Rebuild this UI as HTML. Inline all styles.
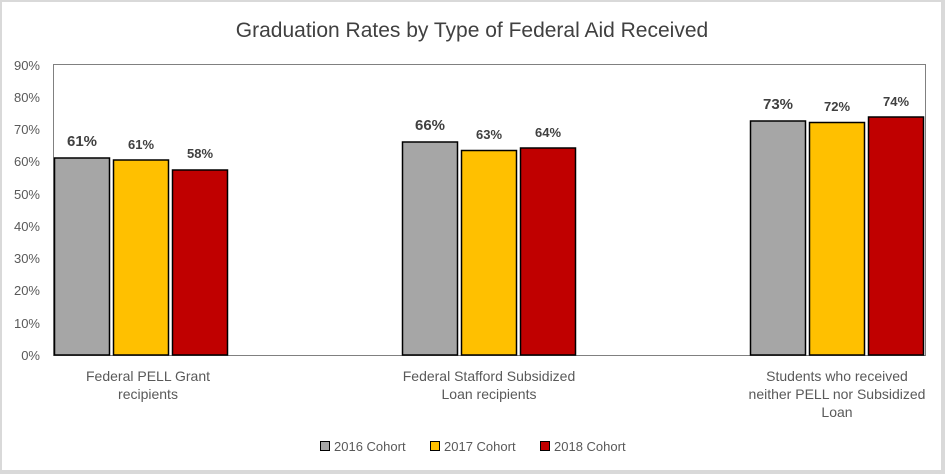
<!DOCTYPE html>
<html><head><style>
body{margin:0;background:#fff;}
svg{display:block;font-family:"Liberation Sans",sans-serif;}
</style></head><body>
<svg width="945" height="474" viewBox="0 0 945 474">
<rect x="0" y="0" width="945" height="474" fill="#d9d9d9"/>
<rect x="2" y="2" width="939" height="468" fill="#fff"/>
<text x="472" y="37" text-anchor="middle" font-size="21" fill="#404040">Graduation Rates by Type of Federal Aid Received</text>
<rect x="53.5" y="64.5" width="872" height="291" fill="none" stroke="#808080" stroke-width="1"/>
<g font-size="13" fill="#595959" text-anchor="end">
<text x="40" y="360">0%</text><text x="40" y="328">10%</text><text x="40" y="295">20%</text>
<text x="40" y="263">30%</text><text x="40" y="231">40%</text><text x="40" y="199">50%</text>
<text x="40" y="166">60%</text><text x="40" y="134">70%</text><text x="40" y="102">80%</text>
<text x="40" y="70">90%</text>
</g>
<g stroke="#000" stroke-width="1.5">
<rect x="54.5" y="158" width="55" height="197" fill="#a6a6a6"/>
<rect x="113.5" y="160" width="55" height="195" fill="#ffc000"/>
<rect x="172.5" y="170" width="55" height="185" fill="#c00000"/>
<rect x="402.5" y="142" width="55" height="213" fill="#a6a6a6"/>
<rect x="461.5" y="150.5" width="55" height="204.5" fill="#ffc000"/>
<rect x="520.5" y="148" width="55" height="207" fill="#c00000"/>
<rect x="750.5" y="121" width="55" height="234" fill="#a6a6a6"/>
<rect x="809.5" y="122.5" width="55" height="232.5" fill="#ffc000"/>
<rect x="868.5" y="117" width="55" height="238" fill="#c00000"/>
</g>
<g font-weight="bold" fill="#404040" text-anchor="middle">
<text x="82" y="146" font-size="15">61%</text>
<text x="141" y="149" font-size="13">61%</text>
<text x="200" y="158" font-size="13">58%</text>
<text x="430" y="130" font-size="15">66%</text>
<text x="489" y="139" font-size="13">63%</text>
<text x="548" y="137" font-size="13">64%</text>
<text x="778" y="109" font-size="15">73%</text>
<text x="837" y="111" font-size="13">72%</text>
<text x="896" y="106" font-size="13">74%</text>
</g>
<g font-size="14" fill="#595959" text-anchor="middle">
<text x="148" y="381">Federal PELL Grant</text><text x="148" y="399">recipients</text>
<text x="489" y="381">Federal Stafford Subsidized</text><text x="489" y="399">Loan recipients</text>
<text x="837" y="381">Students who received</text><text x="837" y="399">neither PELL nor Subsidized</text><text x="837" y="417">Loan</text>
</g>
<g font-size="13" fill="#595959">
<rect x="320.5" y="441.5" width="9" height="9" fill="#a6a6a6" stroke="#000"/>
<text x="334" y="451">2016 Cohort</text>
<rect x="430.5" y="441.5" width="9" height="9" fill="#ffc000" stroke="#000"/>
<text x="444" y="451">2017 Cohort</text>
<rect x="540.5" y="441.5" width="9" height="9" fill="#c00000" stroke="#000"/>
<text x="554" y="451">2018 Cohort</text>
</g>
</svg>
</body></html>
